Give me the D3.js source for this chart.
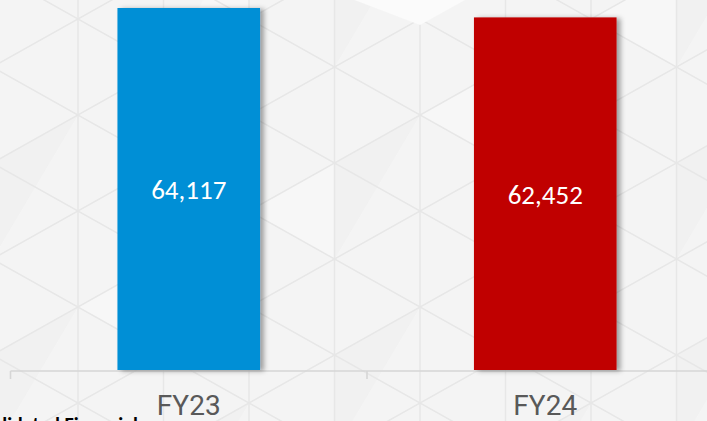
<!DOCTYPE html>
<html>
<head>
<meta charset="utf-8">
<script src="https://cdn.jsdelivr.net/npm/d3@7"></script>
<style>
    html, body { margin: 0; padding: 0; background: #f4f4f4; overflow: hidden; }
    svg { display: block; }
</style>
</head>
<body>
<svg id="chart" width="707" height="421"></svg>
<script>
// chart data
const categories = ["FY23", "FY24"];
const values = [64117, 62452];
const barColors = ["#008fd6", "#c00000"];
const footnote = "Consolidated Financials";

const svg = d3.select("#chart"),
    width = +svg.attr("width"),
    height = +svg.attr("height");

// drop shadow for the bars
const defs = svg.append("defs");
const shadow = defs.append("filter")
    .attr("id", "shadow")
    .attr("x", "-10%").attr("y", "-10%")
    .attr("width", "130%").attr("height", "120%");
shadow.append("feDropShadow")
    .attr("dx", 4).attr("dy", 1)
    .attr("stdDeviation", 2.5)
    .attr("flood-color", "#000")
    .attr("flood-opacity", 0.35);
defs.append("filter").attr("id", "soft")
    .append("feGaussianBlur").attr("stdDeviation", 0.7);

// background: light grey with a triangle lattice
svg.append("rect")
    .attr("width", width).attr("height", height)
    .attr("fill", "#f4f4f4");

const colW = 85.5, rowH = 96, x0 = 78, y0 = 19;
const slope = 48 / colW;
const bg = svg.append("g")
    .attr("stroke", "#e7e7e7")
    .attr("stroke-width", 1.5)
    .attr("filter", "url(#soft)");

// a few softly shaded triangles
const shade = bg.append("g").attr("stroke", "none");
for (let i = -1; i < 9; i++) {
    for (let j = -1; j < 5; j++) {
        const xa = x0 + i * colW, xb = xa + colW;
        const odd = Math.abs(i) % 2 === 1;
        const ya = y0 + j * rowH + (odd ? 48 : 0);
        const yb = ya + (odd ? -48 : 48);
        if ((i + 2 * j) % 4 === 1) {
            shade.append("path")
                .attr("d", `M${xa},${ya}L${xb},${yb}L${xa},${ya + rowH}Z`)
                .attr("fill", "#f1f1f1");
        } else if ((3 * i + j) % 5 === 2) {
            shade.append("path")
                .attr("d", `M${xa},${ya + rowH}L${xb},${yb}L${xb},${yb + rowH}Z`)
                .attr("fill", "#f7f7f7");
        }
    }
}

for (let i = -1; i < 10; i++) {
    const x = x0 + i * colW;
    bg.append("line").attr("x1", x).attr("x2", x).attr("y1", 0).attr("y2", height);
}
for (let j = -12; j < 12; j++) {
    const yA = y0 + j * rowH;
    bg.append("line")
        .attr("x1", -20).attr("y1", yA + slope * (-20 - x0))
        .attr("x2", width + 20).attr("y2", yA + slope * (width + 20 - x0));
    bg.append("line")
        .attr("x1", -20).attr("y1", yA - slope * (-20 - x0))
        .attr("x2", width + 20).attr("y2", yA - slope * (width + 20 - x0));
}
// small bright patch at the top
svg.append("path")
    .attr("d", `M${x0 + 3 * colW + 20},0L${x0 + 4 * colW},${y0 + 6}L${x0 + 4 * colW + 45},0Z`)
    .attr("fill", "#fbfbfb")
    .attr("filter", "url(#soft)");

// scales
const x = d3.scaleBand()
    .domain(categories)
    .range([10.5, 723.5])
    .paddingInner(0.6)
    .paddingOuter(0.3);

const y = d3.scaleLinear()
    .domain([0, d3.max(values)])
    .range([370, 8]);

const step = x.step();
const edge = d => x(d) - x.paddingOuter() * step;

// axis line and boundary ticks
const axis = svg.append("g")
    .attr("stroke", "#d6d6d6")
    .attr("stroke-width", 1.6);
axis.append("line")
    .attr("x1", edge(categories[0])).attr("x2", width)
    .attr("y1", 371).attr("y2", 371);
axis.selectAll(".tick")
    .data(categories)
    .enter().append("line")
    .attr("class", "tick")
    .attr("x1", d => edge(d)).attr("x2", d => edge(d))
    .attr("y1", 371).attr("y2", 379);

// bars
svg.append("g")
    .selectAll("rect")
    .data(values)
    .enter().append("rect")
    .attr("x", (d, i) => x(categories[i]))
    .attr("y", d => y(d))
    .attr("width", x.bandwidth())
    .attr("height", d => y(0) - y(d))
    .attr("fill", (d, i) => barColors[i])
    .attr("filter", "url(#shadow)");

// value labels inside the bars
svg.append("g")
    .selectAll("text")
    .data(values)
    .enter().append("text")
    .attr("x", (d, i) => x(categories[i]) + x.bandwidth() / 2)
    .attr("y", d => (y(d) + y(0)) / 2 + 10)
    .attr("text-anchor", "middle")
    .attr("fill", "#ffffff")
    .attr("font-family", "Carlito, Lato, 'Open Sans', sans-serif")
    .attr("font-size", "27px")
    .text(d => d3.format(",")(d));

// category labels
svg.append("g")
    .selectAll("text")
    .data(categories)
    .enter().append("text")
    .attr("x", d => x(d) + x.bandwidth() / 2)
    .attr("y", 415)
    .attr("text-anchor", "middle")
    .attr("fill", "#595959")
    .attr("font-family", "Roboto, sans-serif")
    .attr("font-size", "28px")
    .text(d => d);

// source note at the bottom left, cut by the lower edge as in the original
svg.append("text")
    .attr("x", 146)
    .attr("y", 431)
    .attr("text-anchor", "end")
    .attr("fill", "#000")
    .attr("font-family", "Carlito, Lato, sans-serif")
    .attr("font-weight", "bold")
    .attr("font-size", "20px")
    .text(footnote);
</script>
</body>
</html>
